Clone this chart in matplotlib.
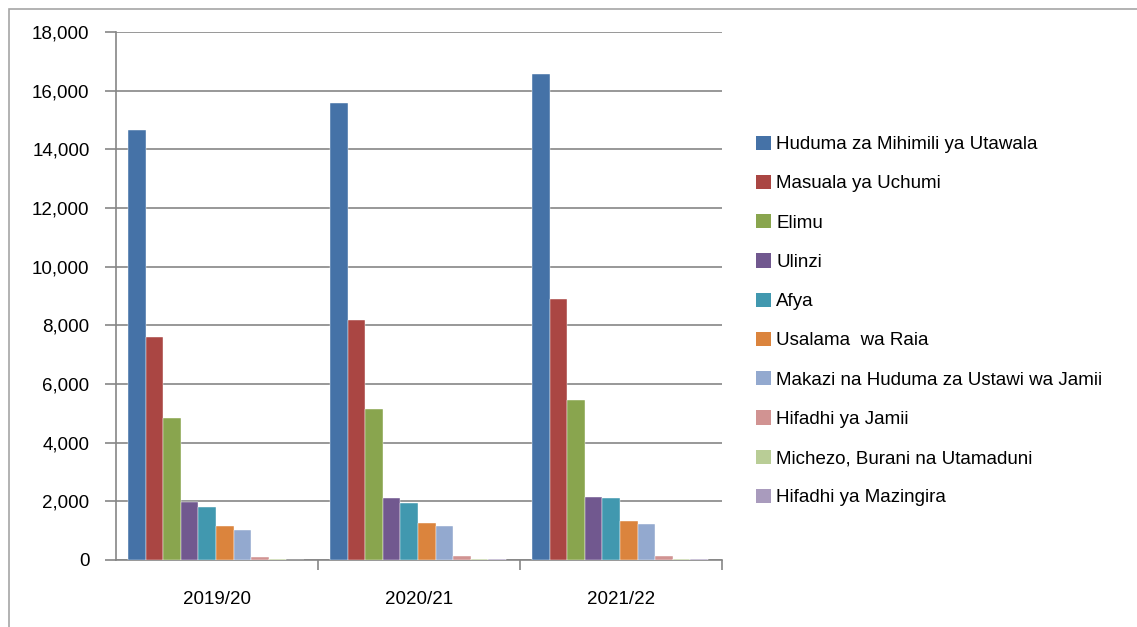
import matplotlib
matplotlib.use("Agg")
import matplotlib.pyplot as plt
from matplotlib.ticker import FuncFormatter, FixedLocator
from matplotlib.patches import Rectangle, Patch
import numpy as np

plt.rcParams['font.family'] = ['Liberation Sans', 'DejaVu Sans']

years = ['2019/20', '2020/21', '2021/22']
series = ['Huduma za Mihimili ya Utawala', 'Masuala ya Uchumi', 'Elimu', 'Ulinzi', 'Afya',
          'Usalama  wa Raia', 'Makazi na Huduma za Ustawi wa Jamii', 'Hifadhi ya Jamii',
          'Michezo, Burani na Utamaduni', 'Hifadhi ya Mazingira']
huduma = [14660, 15570, 16570]
uchumi = [7600, 8170, 8890]
elimu = [4840, 5140, 5450]
ulinzi = [1990, 2100, 2160]
afya = [1820, 1930, 2110]
usalama = [1160, 1260, 1320]
makazi = [1030, 1160, 1215]
hifadhi_jamii = [90, 145, 145]
michezo = [25, 30, 30]
mazingira = [15, 18, 18]
values = [huduma, uchumi, elimu, ulinzi, afya, usalama, makazi, hifadhi_jamii, michezo, mazingira]
colors = ['#4572A7', '#AA4643', '#89A54E', '#71588F', '#4198AF',
          '#DB843D', '#93A9CF', '#D19392', '#B9CD96', '#A99BBD']

fig = plt.figure(figsize=(11.37, 6.27), dpi=100)
ax = fig.add_axes([116/1137, 1-560/627, 606/1137, 528/627])

# outer frame
fig.patches.append(Rectangle((9/1137, -0.05), 1.2, 1-9/627+0.05, transform=fig.transFigure,
                             fill=False, edgecolor='#a6a6a6', linewidth=1.2))

x = np.arange(len(years))
w = 17.6/202
for i, (name, vals) in enumerate(zip(series, values)):
    ax.bar(x + (i - 4.5) * w - 0.005, vals, width=w, color=colors[i], label=name, zorder=3,
           edgecolor='white', linewidth=0.3)

ax.set_ylim(0, 18000)
ax.set_xlim(-0.5, 2.5)
ax.set_yticks(range(0, 18001, 2000))
ax.yaxis.set_major_formatter(FuncFormatter(lambda v, p: f'{int(v):,}'))
ax.grid(axis='y', color='#868686', linewidth=1.2, zorder=0)
ax.set_xticks(x)
ax.set_xticklabels(years)
ax.xaxis.set_minor_locator(FixedLocator([0.5, 1.5, 2.5]))
ax.tick_params(axis='x', which='major', length=0, pad=22, labelsize=13.5)
ax.tick_params(axis='x', which='minor', length=7, width=1.2, color='#868686')
ax.tick_params(axis='y', length=8, width=1.2, color='#868686', pad=11, labelsize=13.5)
for s in ['top', 'right']:
    ax.spines[s].set_visible(False)
for s in ['left', 'bottom']:
    ax.spines[s].set_color('#868686')
    ax.spines[s].set_linewidth(1.2)

handles = [Patch(facecolor=c, label=n) for c, n in zip(colors, series)]
fig.legend(handles=handles, loc='upper left', bbox_to_anchor=(748/1137, 1-128/627),
           frameon=False, fontsize=13.5, handlelength=0.8, handleheight=0.8,
           handletextpad=0.3, labelspacing=1.15, borderaxespad=0)

fig.savefig('out.png', dpi=100)
